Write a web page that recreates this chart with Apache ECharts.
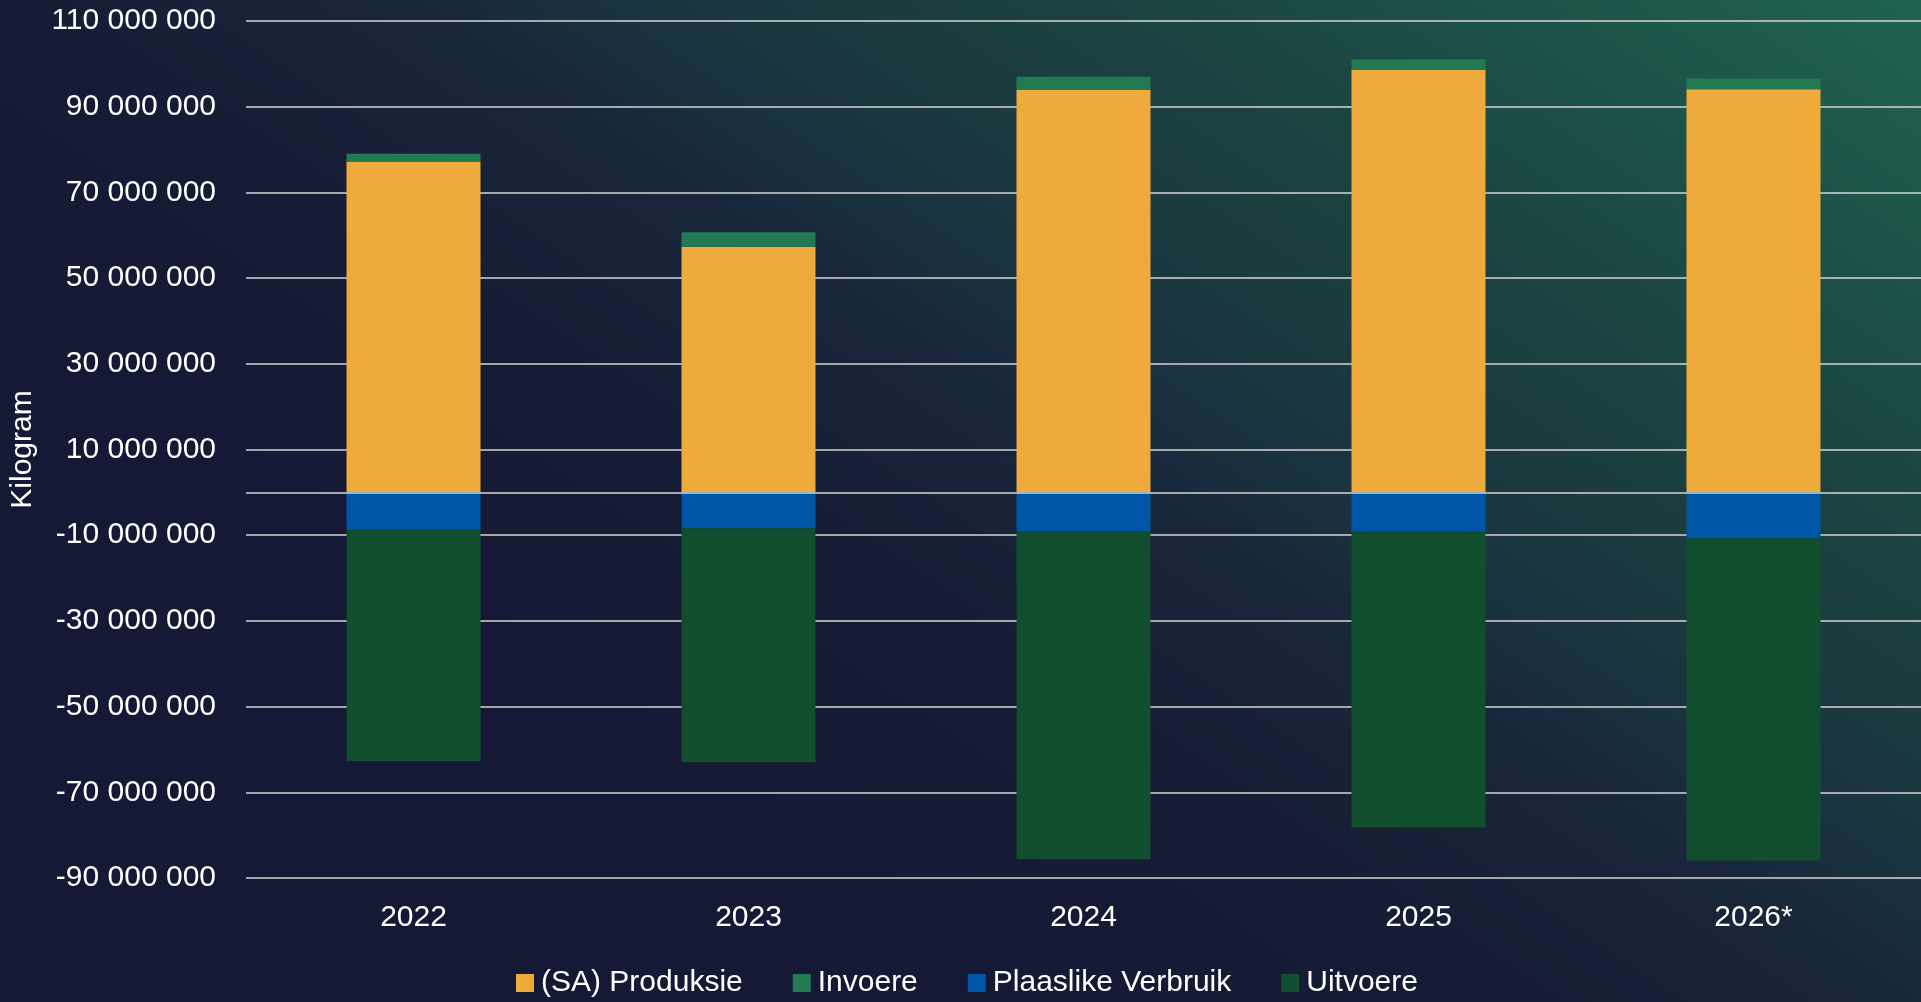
<!DOCTYPE html>
<html>
<head>
<meta charset="utf-8">
<script src="https://cdn.jsdelivr.net/npm/echarts@6/dist/echarts.min.js"></script>
<style>
html,body{margin:0;padding:0;width:1921px;height:1002px;overflow:hidden;background:#161a35;}
#c{width:1921px;height:1002px;}
</style>
</head>
<body>
<div id="c"></div>
<script>
const categories = ['2022', '2023', '2024', '2025', '2026*'];
const produksie = [77200000, 57300000, 93900000, 98600000, 94100000];
const invoere = [1800000, 3400000, 3100000, 2400000, 2500000];
const plaaslikeVerbruik = [-8750000, -8400000, -9000000, -9200000, -10700000];
const uitvoere = [-54000000, -54600000, -76600000, -69000000, -75200000];
const seriesNames = ['(SA) Produksie', 'Invoere', 'Plaaslike Verbruik', 'Uitvoere'];

function fmt(v) {
  const s = Math.abs(v).toString().replace(/\B(?=(\d{3})+(?!\d))/g, ' ');
  return (v < 0 ? '-' : '') + s;
}

const font = "'Liberation Sans', Arial, sans-serif";
const chart = echarts.init(document.getElementById('c'));
chart.setOption({
  backgroundColor: '#161935',
  animation: false,
  textStyle: {fontFamily: font},
  graphic: [{
    type: 'rect', z: -100, silent: true,
    shape: {x: 0, y: 0, width: 1921, height: 1002},
    style: {
      fill: {
        type: 'linear', global: true, x: 0, y: 1002, x2: 1053, y2: -578,
        colorStops: [
          {offset: 0, color: '#161935'},
          {offset: 0.3, color: '#161935'},
          {offset: 0.44, color: '#161c35'},
          {offset: 0.556, color: '#18263a'},
          {offset: 0.62, color: '#1a3340'},
          {offset: 0.716, color: '#1b3e3f'},
          {offset: 0.78, color: '#1b4542'},
          {offset: 1, color: '#1f6350'}
        ]
      }
    }
  }],
  grid: {left: 245, right: 0, top: 21, bottom: 124},
  legend: {
    left: 511, bottom: -1,
    itemWidth: 18, itemHeight: 18, itemGap: 50,
    icon: 'rect',
    textStyle: {color: '#ffffff', fontSize: 30, fontFamily: font, padding: [0, 0, 0, 2]},
    data: seriesNames
  },
  xAxis: {
    type: 'category',
    data: categories,
    axisLine: {show: false},
    axisTick: {show: false},
    axisLabel: {color: '#ffffff', fontSize: 30, margin: 25, fontFamily: font}
  },
  yAxis: {
    type: 'value',
    min: -90000000, max: 110000000, interval: 20000000,
    name: 'Kilogram',
    nameLocation: 'middle',
    nameGap: 208,
    nameRotate: 90,
    nameTextStyle: {color: '#ffffff', fontSize: 30, fontFamily: font},
    axisLine: {show: false},
    axisTick: {show: false},
    axisLabel: {color: '#ffffff', fontSize: 30, margin: 30, formatter: fmt, fontFamily: font},
    splitLine: {lineStyle: {color: '#d4d4d4', width: 1.5}}
  },
  series: [
    {name: seriesNames[0], type: 'bar', stack: 'total', data: produksie, barWidth: '40%',
     itemStyle: {color: '#eeaa3a'},
     markLine: {silent: true, symbol: 'none', label: {show: false},
       lineStyle: {color: '#d4d4d4', width: 1.5, type: 'solid'}, data: [{yAxis: 0}]}},
    {name: seriesNames[1], type: 'bar', stack: 'total', data: invoere, itemStyle: {color: '#237a52'}},
    {name: seriesNames[2], type: 'bar', stack: 'total', data: plaaslikeVerbruik, itemStyle: {color: '#0056a6'}},
    {name: seriesNames[3], type: 'bar', stack: 'total', data: uitvoere, itemStyle: {color: '#114e2e'}}
  ]
});
</script>
</body>
</html>
